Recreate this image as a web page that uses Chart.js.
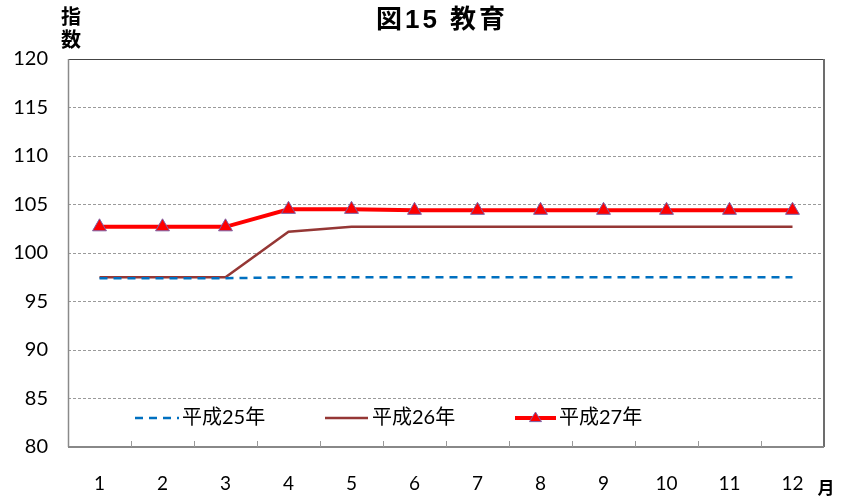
<!DOCTYPE html>
<html><head><meta charset="utf-8">
<script src="https://cdn.jsdelivr.net/npm/chart.js@4.4.1/dist/chart.umd.min.js"></script>
<style>html,body{margin:0;padding:0;background:#fff}#wrap{width:847px;height:497px;position:relative}</style>
</head><body><div id="wrap"><canvas id="c" width="847" height="497"></canvas></div>
<script>
const categories = ['1','2','3','4','5','6','7','8','9','10','11','12'];
const h25 = [97.4,97.4,97.4,97.5,97.5,97.5,97.5,97.5,97.5,97.5,97.5,97.5];
const h26 = [97.5,97.5,97.5,102.2,102.7,102.7,102.7,102.7,102.7,102.7,102.7,102.7];
const h27 = [102.7,102.7,102.7,104.5,104.5,104.4,104.4,104.4,104.4,104.4,104.4,104.4];
const yTicks = [80,85,90,95,100,105,110,115,120];
const seriesLabels = ['平成25年','平成26年','平成27年'];
const FONT = 'Lato,"Noto Sans CJK JP",sans-serif';
const CJK = '"Noto Sans CJK JP",sans-serif';

const decor = {
  id:'decor',
  afterDraw(chart){
    const ctx = chart.ctx, a = chart.chartArea;
    ctx.save();
    ctx.strokeStyle='#444'; ctx.lineWidth=1;
    ctx.beginPath(); ctx.moveTo(a.left,a.top+0.5); ctx.lineTo(a.right,a.top+0.5); ctx.stroke();
    ctx.strokeStyle='#6d6d6d'; ctx.lineWidth=2;
    ctx.beginPath(); ctx.moveTo(a.right,a.top); ctx.lineTo(a.right,a.bottom); ctx.stroke();
    ctx.strokeStyle='#8a8a8a'; ctx.lineWidth=1.5;
    ctx.beginPath(); ctx.moveTo(a.left+0.5,a.top); ctx.lineTo(a.left+0.5,a.bottom); ctx.stroke();
    ctx.strokeStyle='#888'; ctx.lineWidth=2;
    ctx.beginPath(); ctx.moveTo(a.left,a.bottom); ctx.lineTo(a.right,a.bottom); ctx.stroke();
    ctx.lineWidth=1; ctx.strokeStyle='#999';
    const step = (a.right-a.left)/categories.length;
    for(let i=1;i<categories.length;i++){
      const px = Math.round(a.left+step*i)+0.5;
      ctx.beginPath(); ctx.moveTo(px,a.bottom); ctx.lineTo(px,a.bottom-6); ctx.stroke();
    }
    ctx.fillStyle='#000'; ctx.textAlign='center'; ctx.textBaseline='middle';
    ctx.font='bold 26px "Liberation Sans","Noto Sans CJK JP",sans-serif';
    ctx.letterSpacing='3px';
    ctx.fillText('図15 教育', 442, 21);
    ctx.letterSpacing='0px';
    ctx.font='bold 20px '+CJK;
    ctx.fillText('指', 71, 16);
    ctx.fillText('数', 71, 39);
    ctx.font='bold 17px '+CJK;
    ctx.fillText('月', 826, 488);
    const ds = chart.data.datasets;
    const items = [{x0:135,x1:179,tx:182},{x0:325,x1:368,tx:372},{x0:515,x1:556,tx:559}];
    const ly = 418;
    ds.forEach((d,i)=>{
      const it = items[i];
      ctx.save();
      ctx.strokeStyle=d.borderColor; ctx.lineWidth=d.borderWidth;
      ctx.setLineDash(d.borderDash||[]);
      ctx.beginPath(); ctx.moveTo(it.x0,ly); ctx.lineTo(it.x1,ly); ctx.stroke();
      ctx.setLineDash([]);
      if(d.pointStyle==='triangle'){
        const cx=(it.x0+it.x1)/2, r=6;
        ctx.fillStyle=d.pointBackgroundColor; ctx.strokeStyle=d.pointBorderColor; ctx.lineWidth=1;
        ctx.beginPath(); ctx.moveTo(cx,ly-r); ctx.lineTo(cx+r,ly+r*0.6); ctx.lineTo(cx-r,ly+r*0.6); ctx.closePath(); ctx.fill(); ctx.stroke();
      }
      ctx.restore();
      ctx.fillStyle='#000'; ctx.textAlign='left'; ctx.textBaseline='middle';
      ctx.font='20px '+FONT;
      ctx.fillText(d.label, it.tx, ly);
    });
    ctx.restore();
  }
};

new Chart(document.getElementById('c'),{
  type:'line',
  data:{labels:categories,datasets:[
    {label:seriesLabels[0],data:h25,borderColor:'#0070C0',borderWidth:2.5,borderDash:[8,6],pointRadius:0,tension:0},
    {label:seriesLabels[1],data:h26,borderColor:'#953735',borderWidth:2.5,pointRadius:0,tension:0},
    {label:seriesLabels[2],data:h27,borderColor:'#FF0000',borderWidth:4,pointStyle:'triangle',pointRadius:8,pointBackgroundColor:'#FF0000',pointBorderColor:'#7a5fa6',pointBorderWidth:1,tension:0}
  ]},
  options:{
    responsive:false,animation:false,
    layout:{padding:{left:0,right:23,top:59,bottom:0}},
    plugins:{legend:{display:false},tooltip:{enabled:false},title:{display:false}},
    scales:{
      x:{offset:true,grid:{display:false},border:{display:false},
         ticks:{color:'#000',font:{size:19,family:FONT},padding:17,maxRotation:0},
         afterFit(s){s.height=50;}},
      y:{min:80,max:120,afterBuildTicks(s){s.ticks=yTicks.map(v=>({value:v}));},
         grid:{color:'#9a9a9a',lineWidth:1,tickLength:0},
         border:{display:false,dash:[3,2]},
         ticks:{color:'#000',font:{size:20,family:FONT},padding:20},
         afterFit(s){s.width=68;}}
    }
  },
  plugins:[decor]
});
</script></body></html>
